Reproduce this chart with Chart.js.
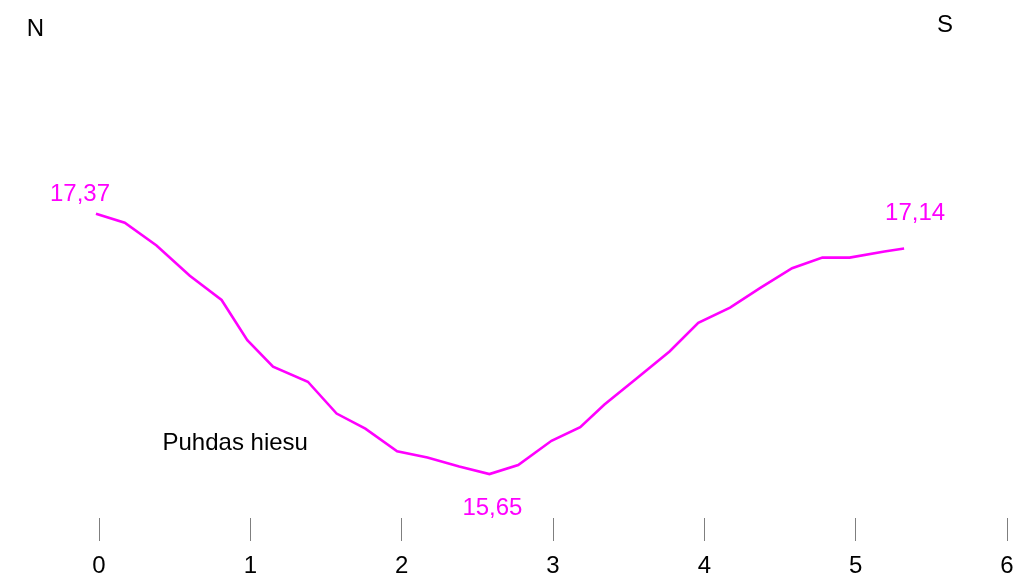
<!DOCTYPE html>
<html>
<head>
<meta charset="utf-8">
<title>Puhdas hiesu – N–S profiil</title>
<script src="https://cdn.jsdelivr.net/npm/chart.js@4/dist/chart.umd.min.js"></script>
<style>
  html, body { margin: 0; padding: 0; background: #ffffff; }
  #wrap { width: 1030px; height: 581px; }
</style>
</head>
<body>
<div id="wrap"><canvas id="c" width="1030" height="581"></canvas></div>
<script>
// Profile distance along the N–S line
const distance = [-0.02, 0.17, 0.38, 0.60, 0.81, 0.98, 1.15, 1.38, 1.57, 1.76,
                  1.97, 2.17, 2.38, 2.58, 2.77, 2.99, 3.18, 3.34, 3.55, 3.77,
                  3.96, 4.17, 4.37, 4.58, 4.78, 4.96, 5.19, 5.32];
// Surface level of the layer along the profile
const level = [17.37, 17.31, 17.16, 16.96, 16.80, 16.535, 16.36, 16.26, 16.05, 15.95,
               15.80, 15.76, 15.70, 15.65, 15.71, 15.87, 15.96, 16.11, 16.28, 16.46,
               16.65, 16.75, 16.88, 17.01, 17.08, 17.08, 17.12, 17.14];
// Axis tick labels
const xTicks = [0, 1, 2, 3, 4, 5, 6];
// Indices of points whose value is written next to the line
const labelled = [0, 13, 27];
const layerName = 'Puhdas hiesu';

const FONT = '"Liberation Sans", Arial, Helvetica, sans-serif';
const MAGENTA = '#ff00ff';

const points = distance.map((d, i) => ({ x: d, y: level[i] }));

// Offsets of value labels relative to their point (pixels)
const labelOffsets = { 0: [-16, -19], 13: [3, 34], 27: [11, -35] };

const annotate = {
  id: 'annotate',
  afterDatasetsDraw(chart) {
    const { ctx, scales: { x, y } } = chart;
    ctx.save();
    ctx.font = '24px ' + FONT;
    ctx.textAlign = 'center';
    ctx.textBaseline = 'middle';

    // value labels
    ctx.fillStyle = MAGENTA;
    labelled.forEach(i => {
      const px = x.getPixelForValue(distance[i]);
      const py = y.getPixelForValue(level[i]);
      const [dx, dy] = labelOffsets[i];
      ctx.fillText(level[i].toFixed(2).replace('.', ','), px + dx, py + dy);
    });

    // orientation letters and layer name
    ctx.fillStyle = '#000000';
    ctx.fillText('N', x.getPixelForValue(-0.42), 29);
    ctx.fillText('S', x.getPixelForValue(5.59), 25);
    ctx.fillText(layerName, x.getPixelForValue(0.90), y.getPixelForValue(15.855));
    ctx.restore();
  }
};

new Chart(document.getElementById('c'), {
  type: 'line',
  data: {
    datasets: [{
      data: points,
      borderColor: MAGENTA,
      borderWidth: 2.6,
      pointRadius: 0,
      tension: 0,
      fill: false,
      clip: false
    }]
  },
  options: {
    responsive: false,
    animation: false,
    events: [],
    layout: { padding: { left: 99, right: 23, top: 60.8, bottom: 0 } },
    plugins: { legend: { display: false }, tooltip: { enabled: false } },
    scales: {
      x: {
        type: 'linear',
        min: 0,
        max: 6,
        afterBuildTicks: s => { s.ticks = xTicks.map(v => ({ value: v })); },
        afterFit: s => { s.height = 63; },
        border: { display: false },
        grid: {
          drawOnChartArea: false,
          drawTicks: true,
          tickLength: 23,
          color: '#7f7f7f',
          lineWidth: 1
        },
        ticks: {
          color: '#000000',
          padding: 11,
          maxRotation: 0,
          font: { family: FONT, size: 24 }
        }
      },
      y: {
        type: 'linear',
        min: 15.36,
        max: 18.38,
        display: false
      }
    }
  },
  plugins: [annotate]
});
</script>
</body>
</html>
